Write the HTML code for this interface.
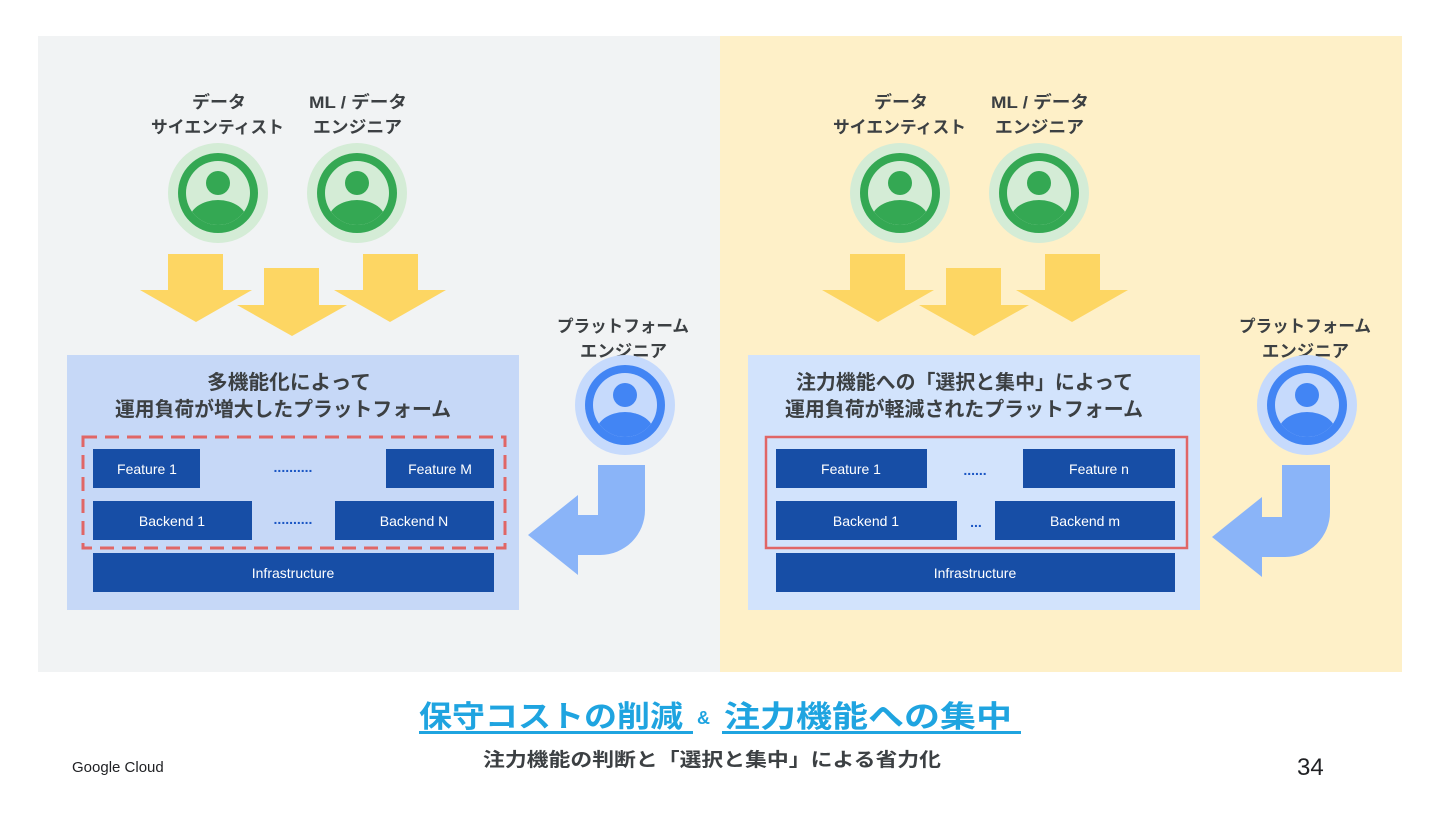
<!DOCTYPE html>
<html><head><meta charset="utf-8"><style>
body{margin:0;width:1440px;height:810px;background:#fff;overflow:hidden;font-family:"Liberation Sans","Noto Sans CJK JP",sans-serif}
</style></head><body>
<svg width="1440" height="810" xmlns="http://www.w3.org/2000/svg" style="font-family:'Liberation Sans','Noto Sans CJK JP',sans-serif">
<defs>
<clipPath id="c"><circle r="32"/></clipPath>
<g id="person">
 <circle r="50" fill="var(--l)"/>
 <circle r="40" fill="var(--d)"/>
 <circle r="32" fill="var(--l)"/>
 <circle cy="-10" r="12" fill="var(--d)"/>
 <ellipse cy="28" rx="29" ry="21" fill="var(--d)" clip-path="url(#c)"/>
</g>
<g id="yarrows" fill="#fdd663">
 <path d="M168,254H223V290H252L196,322L140,290H168Z"/>
 <path d="M264,268H319V305H347L292,336L237,305H264Z"/>
 <path d="M363,254H418V290H446L390,322L334,290H363Z"/>
</g>
</defs>
<rect x="38" y="36" width="682" height="636" fill="#f1f3f4"/>
<rect x="720" y="36" width="682" height="636" fill="#fef0c8"/>

<g font-weight="bold" font-size="17" fill="#3c4043" lengthAdjust="spacingAndGlyphs">
<text x="192" y="108" textLength="54" lengthAdjust="spacingAndGlyphs">データ</text><text x="151" y="133" textLength="133" lengthAdjust="spacingAndGlyphs">サイエンティスト</text>
<text x="309" y="108" textLength="98" lengthAdjust="spacingAndGlyphs">ML / データ</text><text x="313" y="133" textLength="89" lengthAdjust="spacingAndGlyphs">エンジニア</text>
<text x="557" y="332" textLength="132" lengthAdjust="spacingAndGlyphs">プラットフォーム</text><text x="580" y="357" textLength="87" lengthAdjust="spacingAndGlyphs">エンジニア</text>
<text x="874" y="108" textLength="54" lengthAdjust="spacingAndGlyphs">データ</text><text x="833" y="133" textLength="133" lengthAdjust="spacingAndGlyphs">サイエンティスト</text>
<text x="991" y="108" textLength="98" lengthAdjust="spacingAndGlyphs">ML / データ</text><text x="995" y="133" textLength="89" lengthAdjust="spacingAndGlyphs">エンジニア</text>
<text x="1239" y="332" textLength="132" lengthAdjust="spacingAndGlyphs">プラットフォーム</text><text x="1262" y="357" textLength="87" lengthAdjust="spacingAndGlyphs">エンジニア</text>
</g>

<use href="#person" x="218" y="193" style="--l:#d4ecd6;--d:#34a853"/>
<use href="#person" x="357" y="193" style="--l:#d4ecd6;--d:#34a853"/>
<use href="#person" x="900" y="193" style="--l:#d4ecd6;--d:#34a853"/>
<use href="#person" x="1039" y="193" style="--l:#d4ecd6;--d:#34a853"/>
<use href="#person" x="625" y="405" style="--l:#c6dafc;--d:#4285f4"/>
<use href="#person" x="1307" y="405" style="--l:#c6dafc;--d:#4285f4"/>

<use href="#yarrows"/>
<use href="#yarrows" x="682"/>

<path d="M598,465H645V510A45,45 0 0 1 600,555H578V575L528,535L578,495V515H598Z" fill="#8ab4f8"/>
<path d="M1282,465H1330V512A45,45 0 0 1 1285,557H1262V577L1212,537L1262,497V517H1282Z" fill="#8ab4f8"/>

<rect x="67" y="355" width="452" height="255" fill="#c6d8f7"/>
<rect x="748" y="355" width="452" height="255" fill="#d2e3fc"/>

<g font-weight="bold" font-size="20" fill="#3c4043">
<text x="207" y="389" textLength="164" lengthAdjust="spacingAndGlyphs">多機能化によって</text>
<text x="115" y="416" textLength="336" lengthAdjust="spacingAndGlyphs">運用負荷が増大したプラットフォーム</text>
<text x="796" y="389" textLength="337" lengthAdjust="spacingAndGlyphs">注力機能への「選択と集中」によって</text>
<text x="785" y="416" textLength="358" lengthAdjust="spacingAndGlyphs">運用負荷が軽減されたプラットフォーム</text>
</g>

<rect x="83" y="437" width="422" height="111" fill="none" stroke="#e06666" stroke-width="3" stroke-dasharray="14,8"/>
<rect x="766" y="437" width="421" height="111" fill="none" stroke="#e06666" stroke-width="2.5"/>

<g fill="#174ea6">
<rect x="93" y="449" width="107" height="39"/><rect x="386" y="449" width="108" height="39"/>
<rect x="93" y="501" width="159" height="39"/><rect x="335" y="501" width="159" height="39"/>
<rect x="93" y="553" width="401" height="39"/>
<rect x="776" y="449" width="151" height="39"/><rect x="1023" y="449" width="152" height="39"/>
<rect x="776" y="501" width="181" height="39"/><rect x="995" y="501" width="180" height="39"/>
<rect x="776" y="553" width="399" height="39"/>
</g>
<g fill="#fff" font-size="14" text-anchor="middle">
<text x="147" y="474">Feature 1</text><text x="440" y="474">Feature  M</text>
<text x="172" y="526">Backend 1</text><text x="414" y="526">Backend N</text>
<text x="293" y="578">Infrastructure</text>
<text x="851" y="474">Feature 1</text><text x="1099" y="474">Feature n</text>
<text x="866" y="526">Backend 1</text><text x="1085" y="526">Backend m</text>
<text x="975" y="578">Infrastructure</text>
</g>
<g fill="#1a56c4" font-size="14" font-weight="bold" text-anchor="middle">
<text x="293" y="472">..........</text><text x="293" y="524">..........</text>
<text x="975" y="475">......</text><text x="976" y="527">...</text>
</g>

<g font-weight="bold" fill="#1fa4e0">
<text x="419" y="727" font-size="30" textLength="264" lengthAdjust="spacingAndGlyphs">保守コストの削減</text>
<text x="697" y="724" font-size="18">&amp;</text>
<text x="724" y="727" font-size="30" textLength="288" lengthAdjust="spacingAndGlyphs">注力機能への集中</text>
</g>
<rect x="419" y="731" width="274" height="3" fill="#1fa4e0"/>
<rect x="722" y="731" width="299" height="3" fill="#1fa4e0"/>
<text x="483" y="766" font-weight="bold" font-size="19" fill="#3c4043" textLength="458" lengthAdjust="spacingAndGlyphs">注力機能の判断と「選択と集中」による省力化</text>
<text x="72" y="772" font-size="15" fill="#202124">Google Cloud</text>
<text x="1297" y="775" font-size="24" fill="#202124">34</text>
</svg>
</body></html>
